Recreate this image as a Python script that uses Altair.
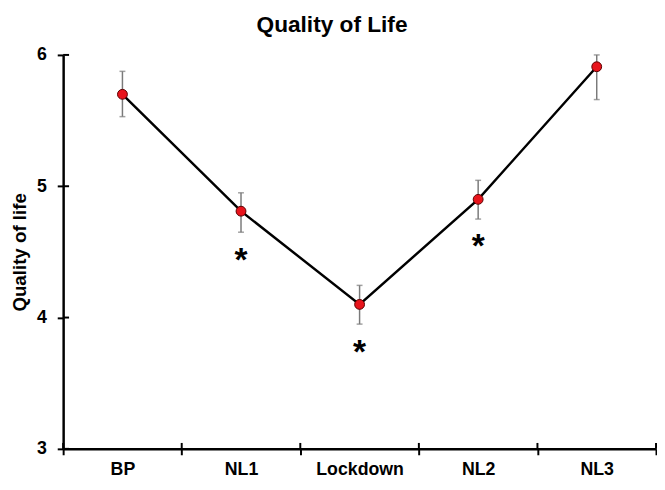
import altair as alt
import pandas as pd

phases = ["BP", "NL1", "Lockdown", "NL2", "NL3"]
means = [5.70, 4.81, 4.10, 4.90, 5.91]
lower = [5.53, 4.65, 3.95, 4.75, 5.66]
upper = [5.875, 4.95, 4.245, 5.045, 6.00]
sig = ["", "*", "*", "*", ""]
y_ticks = [3, 4, 5, 6]

df = pd.DataFrame({"phase": phases, "mean": means,
                   "lower": lower, "upper": upper, "sig": sig})
ticks_df = pd.DataFrame({"v": y_ticks})

FONT = "Liberation Sans"
W, H = 602, 400
yscale = alt.Scale(domain=[3, 6], nice=False, zero=False)
xscale = alt.Scale(paddingInner=0, paddingOuter=0)

x_axis = alt.Axis(title=None, labelAngle=0, tickBand="extent", tickSize=6, tickWidth=2,
                  tickColor="black", domainColor="black", domainWidth=2.5,
                  labelFont=FONT, labelFontSize=18, labelFontWeight="bold",
                  labelColor="black", labelPadding=6)
y_axis = alt.Axis(values=y_ticks, format="d", title="Quality of life", grid=False,
                  tickSize=6, tickWidth=2, tickColor="black", domainColor="black",
                  domainWidth=2.5, labelFont=FONT, labelFontSize=18, labelFontWeight="bold",
                  labelColor="black", labelPadding=11, titleFont=FONT, titleFontSize=19,
                  titleFontWeight="bold", titleColor="black", titlePadding=7)

xq = alt.X("phase:N", sort=phases, scale=xscale, axis=x_axis)
yq = alt.Y("mean:Q", scale=yscale, axis=y_axis)

base = alt.Chart(df)

err = base.mark_rule(color="#7a7a7a", strokeWidth=1.5).encode(
    x=xq, y=alt.Y("lower:Q", scale=yscale, axis=y_axis), y2="upper:Q")
cap_lo = base.mark_tick(color="#7a7a7a", orient="horizontal", size=6, thickness=1.5).encode(
    x=xq, y=alt.Y("lower:Q", scale=yscale, axis=y_axis))
cap_hi = base.mark_tick(color="#7a7a7a", orient="horizontal", size=6, thickness=1.5).encode(
    x=xq, y=alt.Y("upper:Q", scale=yscale, axis=y_axis))
line = base.mark_line(color="black", strokeWidth=2.5).encode(x=xq, y=yq)
pts = base.mark_point(filled=True, fill="#e8141c", stroke="#5a0000", strokeWidth=1,
                      size=100, opacity=1).encode(x=xq, y=yq)
stars = base.mark_text(font=FONT, fontSize=34, fontWeight="bold", color="black",
                       baseline="top", dy=12).encode(
    x=xq, y=alt.Y("lower:Q", scale=yscale, axis=y_axis), text="sig:N")

# inner halves of the crossing tick marks
y_in = alt.Chart(ticks_df).mark_rule(color="black", strokeWidth=2).encode(
    y=alt.Y("v:Q", scale=yscale, axis=y_axis), x=alt.value(0), x2=alt.value(6))
x_in = base.mark_rule(color="black", strokeWidth=2).encode(
    x=alt.X("phase:N", sort=phases, scale=xscale, axis=x_axis, bandPosition=0),
    y=alt.value(H - 6), y2=alt.value(H))
x_in_end = base.transform_filter(alt.datum.phase == phases[-1]).mark_rule(
    color="black", strokeWidth=2).encode(
    x=alt.X("phase:N", sort=phases, scale=xscale, axis=x_axis, bandPosition=1),
    y=alt.value(H - 6), y2=alt.value(H))

chart = alt.layer(err, cap_lo, cap_hi, line, pts, stars, y_in, x_in, x_in_end).properties(
    width=W, height=H,
    padding={"left": 2, "top": 3, "right": 0, "bottom": 0},
    title=alt.TitleParams("Quality of Life", font=FONT, fontSize=23, fontWeight="bold",
                          color="black", offset=9, anchor="middle", dx=-28),
).configure_view(stroke=None)

chart.save("out.html", embed_options={"renderer": "svg", "actions": False})
